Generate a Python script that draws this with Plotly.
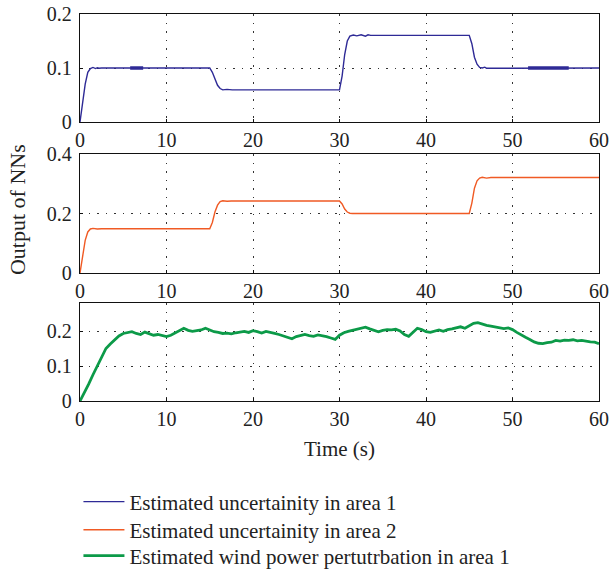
import plotly.graph_objects as go
from plotly.subplots import make_subplots

# ---------------- data ----------------
t_blue = [0, 0.3, 0.6, 0.9, 1.2, 1.5, 1.8, 2.0, 2.2, 2.5, 3.0,
          15.0, 15.3, 15.6, 15.9, 16.2, 16.5, 17.0, 17.3, 17.6, 30.0, 30.3, 30.6, 30.9, 31.2,
          31.6, 32.0, 32.5, 33.0, 33.3, 33.6, 45.0, 45.3, 45.6, 45.9, 46.2, 46.5, 46.8, 47.0, 60.0]
v_blue = [0, 0.035, 0.07, 0.092, 0.099, 0.101, 0.099, 0.1005, 0.0995, 0.1, 0.1,
          0.1, 0.092, 0.08, 0.068, 0.062, 0.0595, 0.0605, 0.0595, 0.0595, 0.0595, 0.085, 0.125, 0.150, 0.159,
          0.161, 0.1595, 0.1615, 0.159, 0.1615, 0.1605, 0.1605, 0.145, 0.12, 0.107, 0.101, 0.1, 0.1015, 0.0995, 0.1]
# intervals where the blue estimate chatters (drawn thicker)
t_blue_chatter = [5.8, 7.3, None, 51.8, 56.5]
v_blue_chatter = [0.1, 0.1, None, 0.1, 0.1]

t_orange = [0, 0.3, 0.6, 0.9, 1.2, 1.5, 2.0, 2.5, 15.0, 15.3, 15.6, 15.9, 16.2, 16.5, 17.0, 17.5,
            30.0, 30.3, 30.6, 30.9, 31.2, 31.5, 45.0, 45.3, 45.6, 45.9, 46.2, 46.5, 47.0, 47.5, 60.0]
v_orange = [0, 0.06, 0.11, 0.138, 0.148, 0.15, 0.148, 0.149, 0.149, 0.17, 0.205, 0.228, 0.24, 0.243, 0.241, 0.242,
            0.242, 0.232, 0.215, 0.205, 0.201, 0.2, 0.2, 0.235, 0.285, 0.31, 0.319, 0.322, 0.319, 0.321, 0.321]

t_green = [0, 0.5, 1, 1.5, 2, 2.5, 3, 3.5, 4, 4.5, 5, 5.5, 6, 6.5, 7, 7.5, 8, 8.5, 9, 9.5,
           10, 10.5, 11, 11.5, 12, 12.5, 13, 13.5, 14, 14.5, 15, 15.5, 16, 16.5, 17, 17.5, 18, 18.5, 19, 19.5,
           20, 20.5, 21, 21.5, 22, 22.5, 23, 23.5, 24, 24.5, 25, 25.5, 26, 26.5, 27, 27.5, 28, 28.5, 29, 29.5,
           30, 30.5, 31, 31.5, 32, 32.5, 33, 33.5, 34, 34.5, 35, 35.5, 36, 36.5, 37, 37.5, 38, 38.5, 39, 39.5,
           40, 40.5, 41, 41.5, 42, 42.5, 43, 43.5, 44, 44.5, 45, 45.5, 46, 46.5, 47, 47.5, 48, 48.5, 49, 49.5,
           50, 50.5, 51, 51.5, 52, 52.5, 53, 53.5, 54, 54.5, 55, 55.5, 56, 56.5, 57, 57.5, 58, 58.5, 59, 59.5, 60]
v_green = [0, 0.022, 0.048, 0.075, 0.100, 0.125, 0.150, 0.163, 0.175, 0.186, 0.193, 0.196, 0.198, 0.193, 0.190,
           0.197, 0.192, 0.188, 0.190, 0.186, 0.184, 0.188, 0.195, 0.203, 0.208, 0.202, 0.199, 0.201, 0.203, 0.208,
           0.203, 0.198, 0.196, 0.193, 0.194, 0.192, 0.195, 0.197, 0.199, 0.196, 0.201, 0.198, 0.194, 0.199, 0.197,
           0.193, 0.190, 0.186, 0.181, 0.178, 0.184, 0.188, 0.190, 0.187, 0.185, 0.189, 0.187, 0.184, 0.180, 0.176,
           0.188, 0.195, 0.199, 0.202, 0.204, 0.209, 0.211, 0.206, 0.201, 0.198, 0.202, 0.204, 0.203, 0.205, 0.200,
           0.190, 0.185, 0.198, 0.208, 0.204, 0.198, 0.196, 0.200, 0.203, 0.199, 0.204, 0.206, 0.210, 0.212, 0.208,
           0.215, 0.222, 0.224, 0.219, 0.216, 0.214, 0.212, 0.209, 0.207, 0.209, 0.204, 0.196, 0.188, 0.182, 0.176,
           0.169, 0.165, 0.164, 0.167, 0.168, 0.173, 0.171, 0.174, 0.173, 0.175, 0.172, 0.173, 0.170, 0.169, 0.168,
           0.164]

names = ["Estimated uncertainity in area 1",
         "Estimated uncertainity in area 2",
         "Estimated wind power pertutrbation in area 1"]
colors = ["#2e2a96", "#f05a24", "#0c9a48"]

x_ticks = [0, 10, 20, 30, 40, 50, 60]
y1_ticks = [0, 0.1, 0.2]
y2_ticks = [0, 0.2, 0.4]
y3_ticks = [0, 0.1, 0.2]
y1_labels = ["0", "0.1", "0.2"]
y2_labels = ["0", "0.2", "0.4"]
y3_labels = ["0", "0.1", "0.2"]

# ---------------- figure ----------------
fig = make_subplots(rows=3, cols=1)
fig.add_trace(go.Scatter(x=t_blue, y=v_blue, mode="lines", name=names[0], legend="legend",
                         line=dict(color=colors[0], width=1.4)), row=1, col=1)
fig.add_trace(go.Scatter(x=t_blue_chatter, y=v_blue_chatter, mode="lines", showlegend=False,
                         line=dict(color=colors[0], width=3.5)), row=1, col=1)
fig.add_trace(go.Scatter(x=t_orange, y=v_orange, mode="lines", name=names[1], legend="legend2",
                         line=dict(color=colors[1], width=1.4)), row=2, col=1)
fig.add_trace(go.Scatter(x=t_green, y=v_green, mode="lines", name=names[2], legend="legend3",
                         line=dict(color=colors[2], width=2.8)), row=3, col=1)

font = "Liberation Serif, Times New Roman, serif"
axis_common = dict(showline=True, mirror=True, linecolor="#111", linewidth=1.3,
                   showgrid=True, gridcolor="#333", griddash="1.5px,7px", gridwidth=1,
                   zeroline=False, ticks="inside", ticklen=3, tickcolor="#111",
                   ticklabeloverflow="allow",
                   tickfont=dict(family=font, size=20, color="#222"))

domains = [[0.7209, 1.0], [0.3307, 0.6382], [0.0, 0.2532]]
yr = [[0, 0.2], [0, 0.4], [0, 0.28]]
ytv = [y1_ticks, y2_ticks, y3_ticks]
ytt = [y1_labels, y2_labels, y3_labels]
for i in range(3):
    fig.update_xaxes(range=[0, 60], tickvals=x_ticks, row=i + 1, col=1, **axis_common)
    fig.update_yaxes(range=yr[i], tickvals=ytv[i], ticktext=ytt[i], domain=domains[i],
                     ticklabelstandoff=3, row=i + 1, col=1, **axis_common)

fig.add_annotation(text="Output of NNs", xref="paper", yref="paper", x=-0.119, y=0.494,
                   xanchor="center", yanchor="middle",
                   textangle=-90, showarrow=False, font=dict(family=font, size=22, color="#222"))
fig.add_annotation(text="Time (s)", xref="paper", yref="paper", x=0.5, y=-0.124,
                   xanchor="center", yanchor="middle",
                   showarrow=False, font=dict(family=font, size=21, color="#222"))

leg_common = dict(x=-0.003, xanchor="left", yanchor="middle", itemwidth=41,
                  font=dict(family=font, size=21, color="#222"),
                  bgcolor="rgba(0,0,0,0)")
fig.update_layout(
    width=609, height=576,
    margin=dict(l=80, r=10, t=14, b=175, autoexpand=False),
    paper_bgcolor="white", plot_bgcolor="white",
    font=dict(family=font, size=20, color="#222"),
    showlegend=True,
    legend=dict(y=-0.261, **leg_common),
    legend2=dict(y=-0.3334, **leg_common),
    legend3=dict(y=-0.4002, **leg_common),
)

fig.write_html("out.html", config={"displayModeBar": False},
               post_script="document.body.style.margin='0';")
